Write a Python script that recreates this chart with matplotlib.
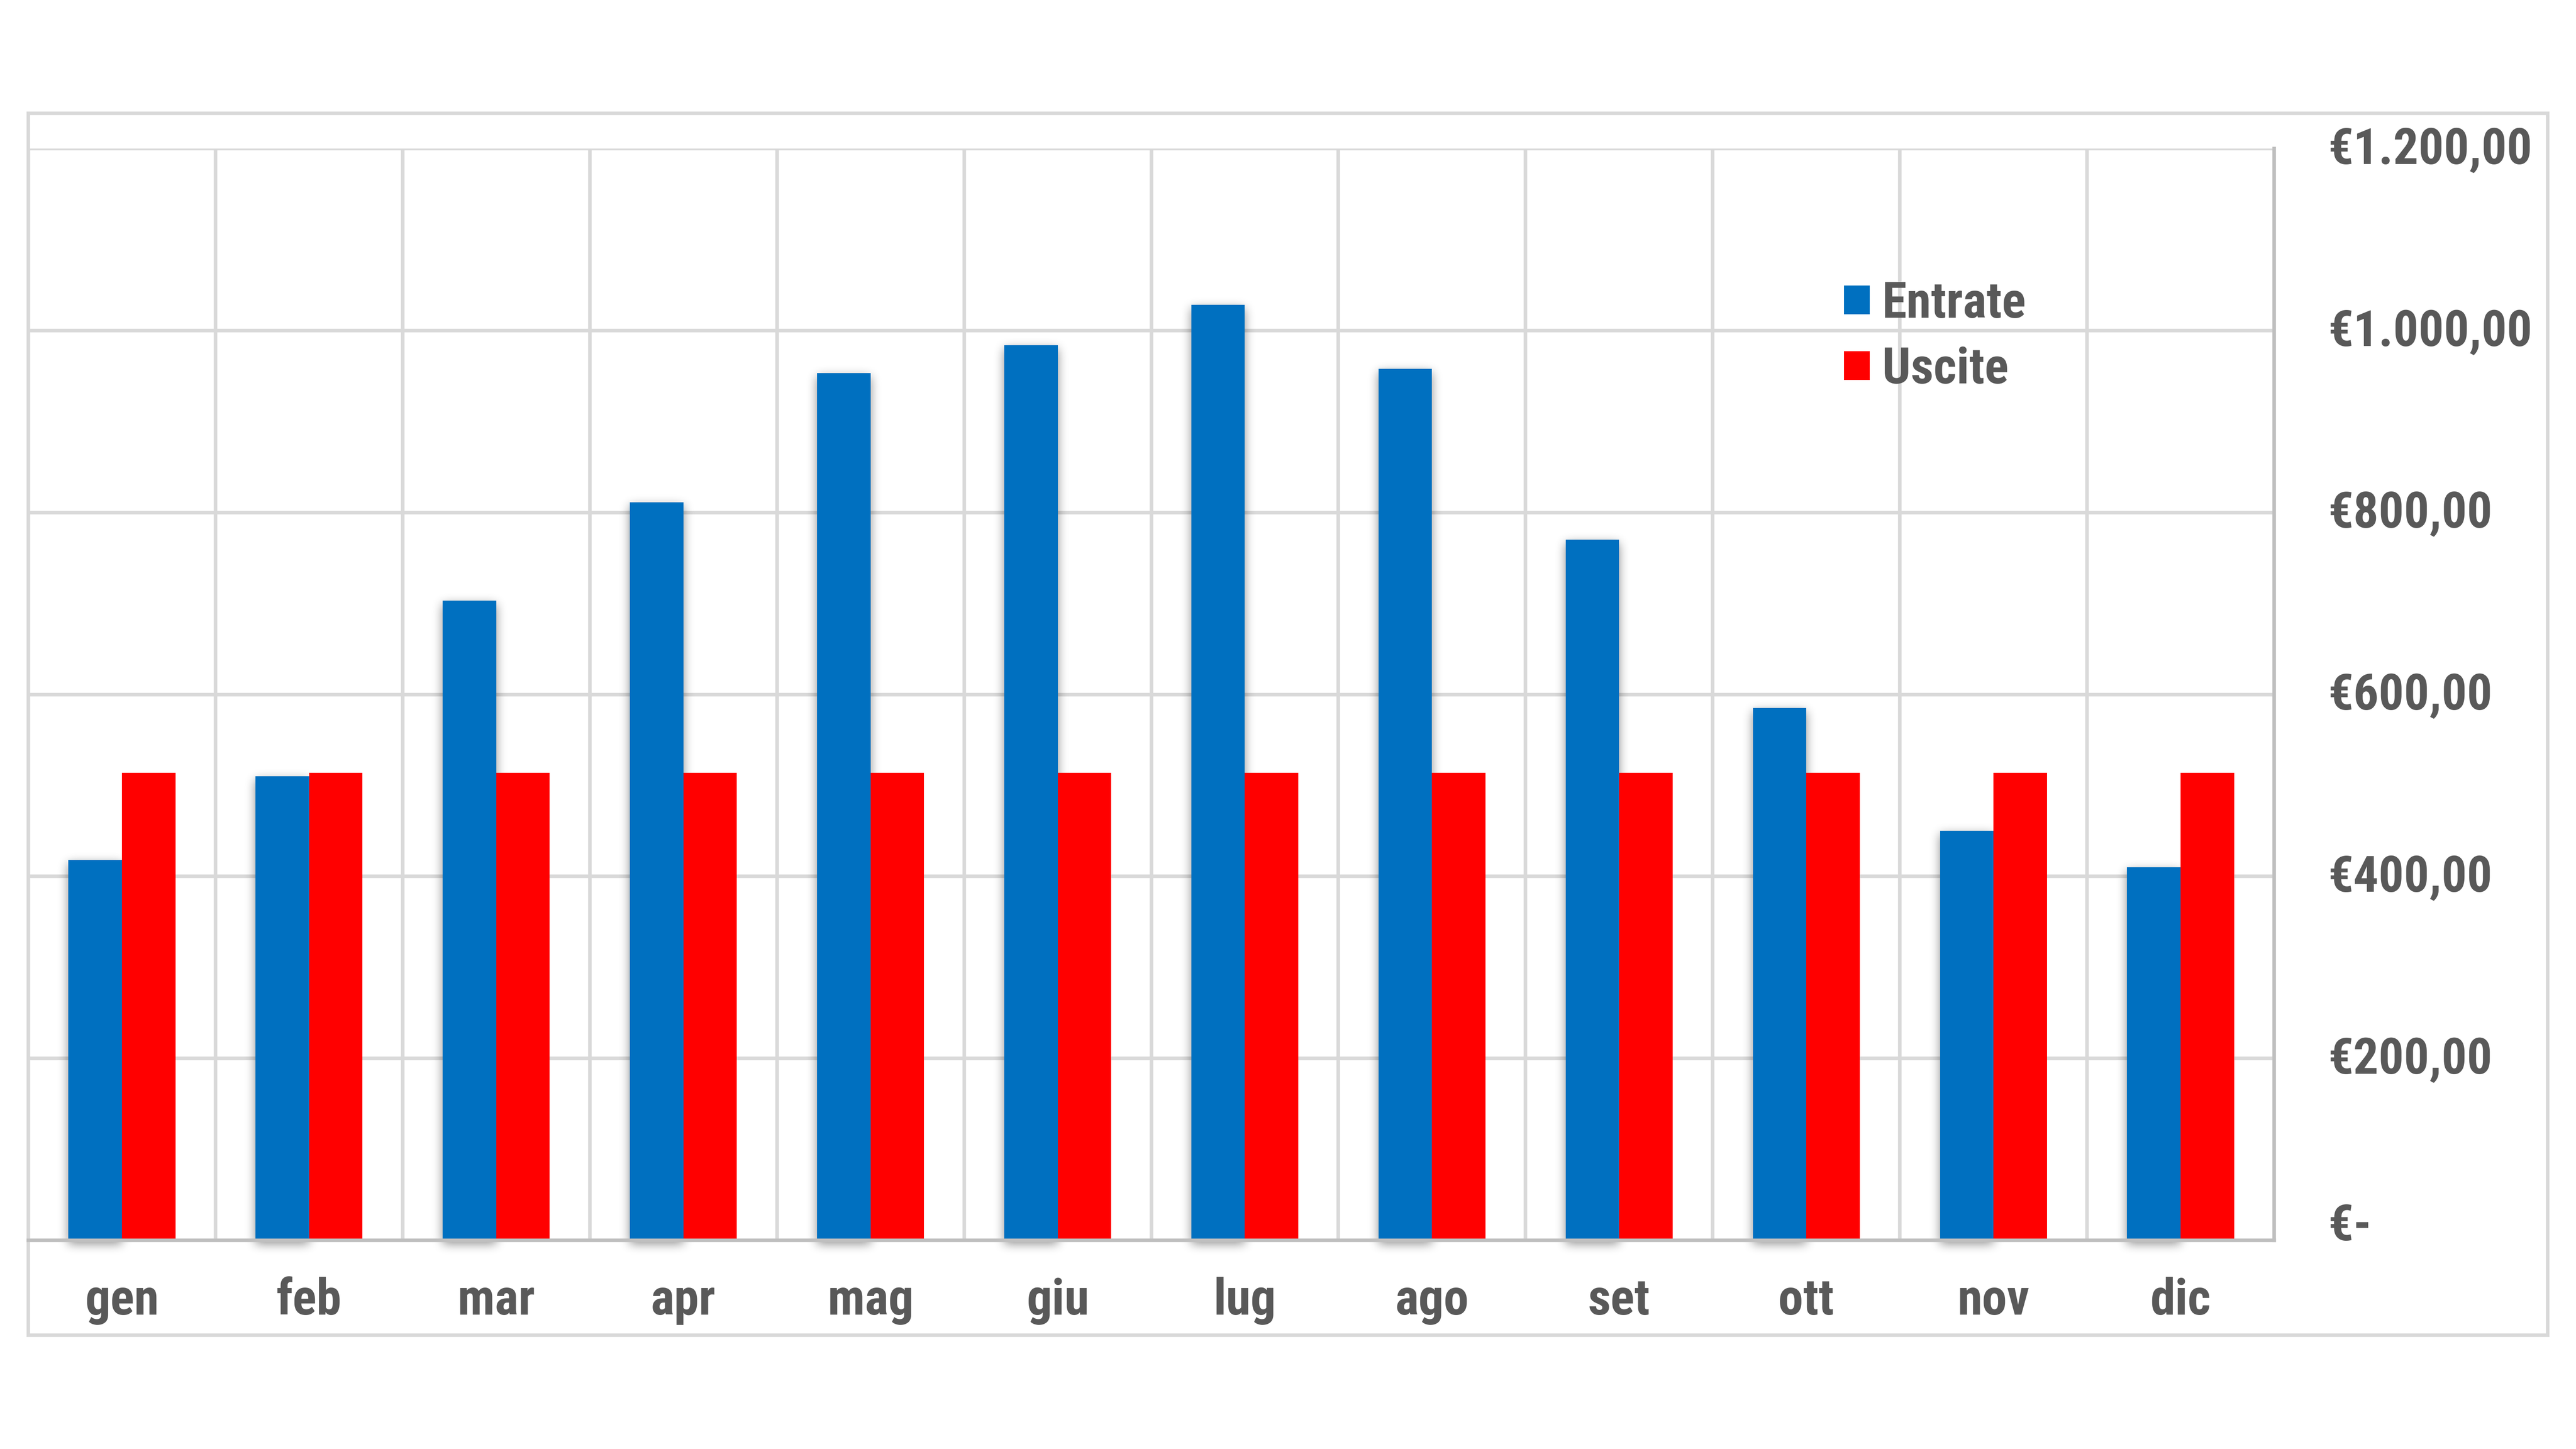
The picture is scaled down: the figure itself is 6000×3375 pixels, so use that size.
import numpy as np
import matplotlib
matplotlib.use('Agg')
import matplotlib.pyplot as plt
from matplotlib import font_manager as fm
from matplotlib.patches import Rectangle, Patch
from matplotlib.ticker import FixedLocator
from matplotlib.transforms import ScaledTranslation

# ---------------- data ----------------
months = ['gen', 'feb', 'mar', 'apr', 'mag', 'giu', 'lug', 'ago', 'set', 'ott', 'nov', 'dic']
entrate = [418, 510, 703, 811, 953, 984, 1028, 958, 770, 585, 450, 410]
uscite = [514, 514, 514, 514, 514, 514, 514, 514, 514, 514, 514, 514]
series_names = ['Entrate', 'Uscite']
y_ticks = [0, 200, 400, 600, 800, 1000, 1200]
y_tick_labels = ['€-', '€200,00', '€400,00', '€600,00', '€800,00', '€1.000,00', '€1.200,00']

# ---------------- style ----------------
BLUE = '#0070C0'
RED = '#FF0000'
GRID = '#D9D9D9'
AXIS = '#BFBFBF'
TXT = '#595959'


def has_font(name):
    try:
        fm.findfont(fm.FontProperties(family=name), fallback_to_default=False)
        return True
    except Exception:
        return False


if has_font('Roboto Condensed'):
    FAM, FS = 'Roboto Condensed', 28
elif has_font('Roboto'):
    FAM, FS = 'Roboto', 27
else:
    FAM, FS = 'DejaVu Sans', 25
plt.rcParams['font.family'] = [FAM, 'DejaVu Sans']
plt.rcParams['font.weight'] = 'bold'

W, H, DPI = 6000, 3375, 300
fig = plt.figure(figsize=(W / DPI, H / DPI), dpi=DPI)
fig.patch.set_facecolor('white')


def px(x):
    return x / W


def py(y):
    return 1 - y / H


# outer chart border
fig.add_artist(Rectangle((px(66), py(3110)), px(5934) - px(66), py(264) - py(3110),
                         transform=fig.transFigure, fill=False, edgecolor=GRID,
                         linewidth=2, zorder=0))

ax = fig.add_axes([px(66), py(2889), px(5297) - px(66), py(346) - py(2889)])
ax.set_facecolor('none')

x = np.arange(len(months))
bw = 1 / 3.5


# ---- soft drop shadow (agg filter) ----
def _box(a, r, axis):
    n = 2 * r + 1
    pad = [(0, 0), (0, 0)]
    pad[axis] = (r + 1, r)
    c = np.cumsum(np.pad(a, pad), axis=axis)
    if axis == 0:
        return (c[n:] - c[:-n]) / n
    return (c[:, n:] - c[:, :-n]) / n


def shadow_filter(im, dpi):
    r = 11
    pad = 4 * r
    a = np.pad(im[..., 3], pad)
    for _ in range(3):
        a = _box(a, r, 0)
        a = _box(a, r, 1)
    out = np.zeros(a.shape + (4,))
    out[..., 3] = np.clip(a * 0.45, 0, 1)
    return out, -pad, -pad - 8


shadows = ax.bar(x - bw / 2, entrate, bw, color='black', linewidth=0, zorder=2)
for p in shadows:
    p.set_agg_filter(shadow_filter)

ax.bar(x - bw / 2, entrate, bw, color=BLUE, linewidth=0, zorder=3, label=series_names[0])
ax.bar(x + bw / 2, uscite, bw, color=RED, linewidth=0, zorder=3, label=series_names[1])

ax.set_xlim(-0.5, len(months) - 0.5)
ax.set_ylim(0, 1200)

# grid
ax.set_axisbelow(True)
ax.xaxis.set_minor_locator(FixedLocator(np.arange(-0.5, len(months), 1)))
ax.grid(which='minor', axis='x', color=GRID, linewidth=2)
ax.grid(which='major', axis='y', color=GRID, linewidth=2)
ax.grid(which='major', axis='x', visible=False)

# ticks
ax.set_xticks(x, months)
ax.tick_params(axis='x', which='both', length=0, pad=20.5, labelsize=FS, labelcolor=TXT)
ax.yaxis.tick_right()
ax.set_yticks(y_ticks, y_tick_labels)
ax.tick_params(axis='y', which='both', length=0, pad=30, labelsize=FS, labelcolor=TXT)
for lbl in ax.get_xticklabels() + ax.get_yticklabels():
    lbl.set_fontweight('bold')

# value-axis labels sit slightly above their gridlines (the zero label more so)
for val, tick in zip(y_ticks, ax.yaxis.get_major_ticks()):
    dy = (10.5 if val == 0 else 2.0) / 72
    tick.label2.set_transform(tick.label2.get_transform()
                              + ScaledTranslation(0, dy, fig.dpi_scale_trans))

# spines
for s in ['top', 'left']:
    ax.spines[s].set_visible(False)
for s in ['bottom', 'right']:
    ax.spines[s].set_color(AXIS)
    ax.spines[s].set_linewidth(2)
    ax.spines[s].set_zorder(4)

# legend
handles = [Patch(facecolor=BLUE, linewidth=0), Patch(facecolor=RED, linewidth=0)]
leg = ax.legend(handles, series_names, loc='upper left',
                bbox_to_anchor=(px(4295), py(652)), bbox_transform=fig.transFigure,
                frameon=False, fontsize=FS, handlelength=0.51, handleheight=0.51,
                handletextpad=0.25, labelspacing=0.35, borderpad=0, borderaxespad=0,
                labelcolor=TXT, prop={'weight': 'bold', 'size': FS})

fig.savefig('out.png', dpi=DPI, facecolor='white')
